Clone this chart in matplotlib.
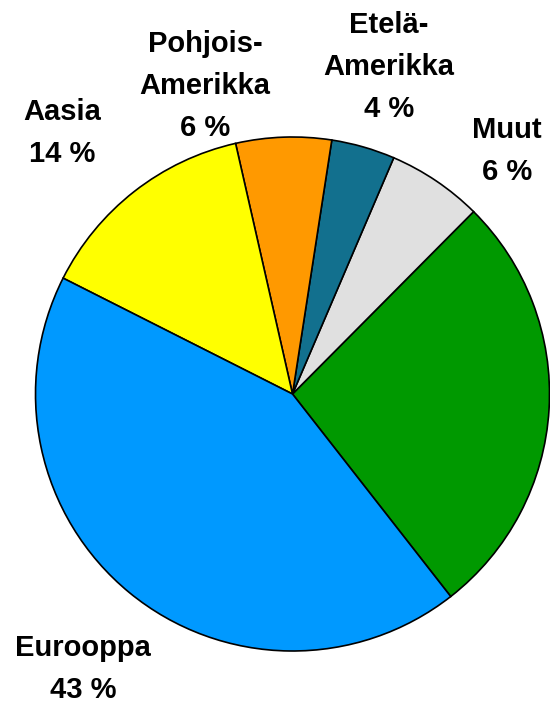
import matplotlib
matplotlib.use("Agg")
import matplotlib.pyplot as plt
from matplotlib.transforms import IdentityTransform

# Data (counter-clockwise order starting with the green slice)
regions = ["", "Muut", "Etelä-Amerikka", "Pohjois-Amerikka", "Aasia", "Eurooppa"]
shares = [27, 6, 4, 6, 14, 43]
colors = ["#009900", "#E0E0E0", "#12708E", "#FF9900", "#FFFF00", "#0099FF"]

W, H, DPI = 550, 701, 100
fig = plt.figure(figsize=(W / DPI, H / DPI), dpi=DPI)

cx, cy, r = 292.5, 394.0, 257.0
ax = fig.add_axes([(cx - r) / W, (H - cy - r) / H, 2 * r / W, 2 * r / H])
wedges, _ = ax.pie(shares, colors=colors, startangle=-52, counterclock=True,
                   wedgeprops=dict(edgecolor="black", linewidth=1.2),
                   radius=1.0)
for w in wedges:
    w.set_clip_on(False)
ax.set_xlim(-1, 1)
ax.set_ylim(-1, 1)
ax.set_aspect("auto")
ax.axis("off")

# label layout: (center x, first-baseline y) in image pixels
label_pos = {
    "Aasia": (62, 120),
    "Pohjois-Amerikka": (205, 52),
    "Etelä-Amerikka": (389, 33),
    "Muut": (507, 138),
    "Eurooppa": (83, 656),
}
pitch = 42
for name, val in zip(regions, shares):
    if not name:
        continue
    lines = name.replace("-", "-\n").split("\n") + [f"{val} %"]
    x, y0 = label_pos[name]
    for i, line in enumerate(lines):
        fig.text(x, H - (y0 + i * pitch), line, transform=IdentityTransform(),
                 ha="center", va="baseline", fontsize=21, fontweight="bold",
                 family=["Liberation Sans", "DejaVu Sans"], color="black")

fig.savefig("out.png", dpi=DPI)
